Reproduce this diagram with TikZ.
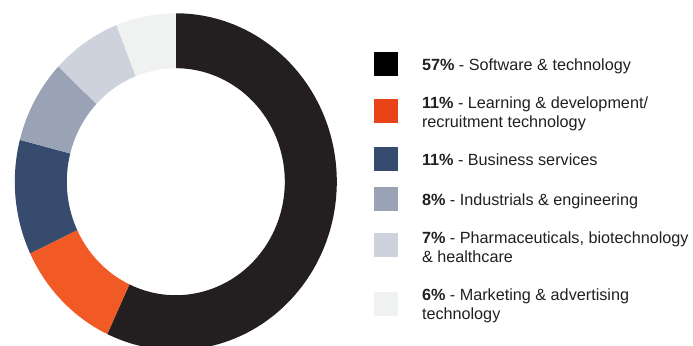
\documentclass[tikz,border=0pt]{standalone}
\usepackage{fontspec}
\setmainfont{Liberation Sans}
\usetikzlibrary{calc}
\definecolor{cBlack}{HTML}{231F20}
\definecolor{cOrange}{HTML}{F15A24}
\definecolor{cNavy}{HTML}{364B6E}
\definecolor{cGray}{HTML}{9AA3B5}
\definecolor{cLight}{HTML}{CDD2DC}
\definecolor{cVLight}{HTML}{F0F2F1}
\definecolor{sBlack}{HTML}{000000}
\definecolor{sOrange}{HTML}{E84418}
\definecolor{txt}{HTML}{231F20}
\begin{document}
\begin{tikzpicture}[x=1bp,y=1bp,
  swatch/.style={minimum width=24bp,minimum height=24bp,inner sep=0pt,outer sep=0pt,draw=none},
  legtext/.style={anchor=base west,inner sep=0pt,outer sep=0pt,text=txt,font=\fontsize{16.2bp}{19bp}\selectfont}
]
\useasboundingbox (0,0) rectangle (693,345);
\clip (0,0) rectangle (693,345);
\coordinate (c) at (175.8,163.3);
\def\Rx{161}
\def\Ry{168.4}
\def\rx{109}
\def\ry{113.5}
\foreach \a/\b/\col in {90/-115.2/cBlack, -115.2/-154.8/cOrange, -154.8/-194.4/cNavy, -194.4/-223.2/cGray, -223.2/-248.4/cLight, -248.4/-270/cVLight}{
  \fill[\col] ($(c)+(\a:\Rx bp and \Ry bp)$) arc[start angle=\a,end angle=\b,x radius=\Rx,y radius=\Ry]
    -- ($(c)+(\b:\rx bp and \ry bp)$) arc[start angle=\b,end angle=\a,x radius=\rx,y radius=\ry] -- cycle;
}
% legend
\node[swatch,fill=sBlack] (s1) at (386,281) {};
\node[swatch,fill=sOrange] (s2) at (386,234) {};
\node[swatch,fill=cNavy] (s3) at (386,186) {};
\node[swatch,fill=cGray] (s4) at (386,146) {};
\node[swatch,fill=cLight] (s5) at (386,100) {};
\node[swatch,fill=cVLight] (s6) at (386,41) {};
\node[legtext] (t1) at (422,275) {\textbf{57\%} - Software \& technology};
\node[legtext] (t2) at (422,237) {\parbox[t]{270bp}{\textbf{11\%} - Learning \& development/\\recruitment technology}};
\node[legtext] (t3) at (422,180) {\textbf{11\%} - Business services};
\node[legtext] (t4) at (422,140) {\textbf{8\%} - Industrials \& engineering};
\node[legtext] (t5) at (422,101.5) {\parbox[t]{270bp}{\textbf{7\%} - Pharmaceuticals, biotechnology\\\& healthcare}};
\node[legtext] (t6) at (422,45) {\parbox[t]{270bp}{\textbf{6\%} - Marketing \& advertising\\technology}};
\end{tikzpicture}
\end{document}
